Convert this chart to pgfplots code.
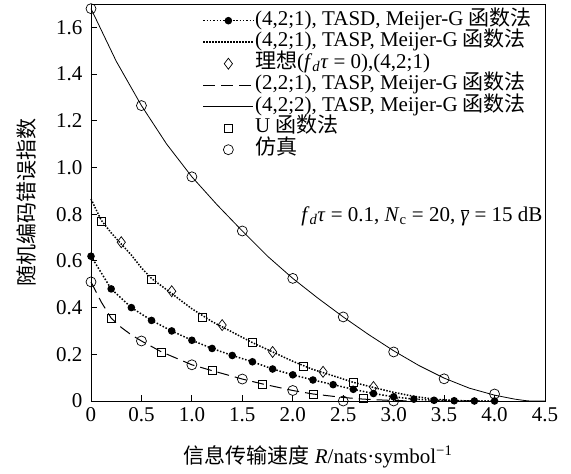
\documentclass[border=0pt]{standalone}
\usepackage{fontspec}
\setmainfont{Liberation Serif}
\newfontfamily\cjk{Noto Sans CJK SC}
\usepackage{pgfplots}
\pgfplotsset{compat=1.18}

\pgfplotstableread{
x y
0 0.62
0.2 0.48
0.4 0.40
0.6 0.345
0.8 0.30
1.0 0.26
1.2 0.225
1.4 0.195
1.6 0.168
1.8 0.137
2.0 0.112
2.2 0.09
2.4 0.07
2.6 0.05
2.8 0.032
3.0 0.018
3.2 0.008
3.4 0.003
3.6 0.001
3.8 0
4.0 0
}\tasd

\pgfplotstableread{
x y
0 0.865
0.1 0.775
0.2 0.72
0.3 0.672
0.4 0.625
0.5 0.57
0.6 0.525
0.8 0.46
1.0 0.395
1.2 0.34
1.4 0.295
1.6 0.25
1.8 0.21
2.0 0.17
2.2 0.135
2.4 0.108
2.6 0.08
2.8 0.058
3.0 0.037
3.2 0.02
3.4 0.008
3.6 0.002
3.8 0
4.0 0
}\taspone

\pgfplotstableread{
x y
0 0.51
0.1 0.425
0.2 0.355
0.3 0.315
0.4 0.283
0.5 0.257
0.7 0.21
1.0 0.155
1.2 0.13
1.5 0.094
1.7 0.073
2.0 0.045
2.2 0.03
2.5 0.015
2.7 0.008
3.0 0.002
3.2 0
}\tasptwo

\pgfplotstableread{
x y
0 1.68
0.25 1.455
0.5 1.265
0.75 1.10
1.0 0.96
1.25 0.84
1.5 0.728
1.75 0.62
2.0 0.525
2.25 0.44
2.5 0.36
2.75 0.285
3.0 0.215
3.25 0.152
3.5 0.098
3.75 0.055
4.0 0.025
4.2 0.008
4.3 0.002
4.35 0
4.5 0
}\taspfour

\newcommand\fsz{\fontsize{21bp}{25bp}\selectfont}

\begin{document}
\begin{tikzpicture}
\begin{axis}[
  scale only axis,
  width=454bp, height=397bp,
  xmin=0, xmax=4.5, ymin=0, ymax=1.7,
  clip=false,
  tick align=inside, tick pos=left,
  major tick length=6bp,
  axis line style={line width=0.8bp},
  every tick/.style={line width=0.8bp, black},
  xtick={0,0.5,1,1.5,2,2.5,3,3.5,4,4.5},
  xticklabels={0,0.5,1.0,1.5,2.0,2.5,3.0,3.5,4.0,4.5},
  ytick={0,0.2,0.4,0.6,0.8,1.0,1.2,1.4,1.6},
  yticklabels={0,0.2,0.4,0.6,0.8,1.0,1.2,1.4,1.6},
  tick label style={font=\fsz},
  yticklabel style={xshift=-5bp},
  xticklabel style={yshift=-3bp},
  xlabel={{\cjk 信息传输速度} \textit{R}/nats·symbol\textsuperscript{\char"2212 1}},
  ylabel={\cjk 随机编码错误指数},
  label style={font=\fsz},
  xlabel style={at={(axis description cs:0.5,-0.14)}, anchor=center},
  ylabel style={at={(axis description cs:-0.141,0.5)}, anchor=center},
  legend cell align=left,
  legend style={draw=none, fill=none, at={(1,1)}, anchor=north east,
    font=\fsz,
    nodes={inner sep=1bp, text height=13bp, text depth=4bp},
    row sep=2.5bp, xshift=-9bp, yshift=-5bp},
  legend image code/.code={
    \draw[mark repeat=2,mark phase=2,#1] plot coordinates {(0bp,0bp) (25bp,0bp) (50bp,0bp)};
  },
]
% (4,2;1) TASD
\addplot[black, line width=1.5bp, dash pattern=on 1.5bp off 1.8bp,
  mark=*, mark size=3bp, mark options={solid, fill=black}] table {\tasd};
\addlegendentry{(4,2;1), TASD, Meijer-G {\cjk 函数法}}
% (4,2;1) TASP
\addplot[black, line width=1.5bp, dash pattern=on 1.5bp off 1.5bp] table {\taspone};
\addlegendentry{(4,2;1), TASP, Meijer-G {\cjk 函数法}}
% ideal
\addplot[black, only marks, mark=diamond, mark size=5.5bp, mark options={line width=0.7bp}] coordinates {
  (0.3,0.68) (0.8,0.47) (1.3,0.325) (1.8,0.21) (2.3,0.125) (2.8,0.06)
};
\addlegendentry{{\cjk 理想}(\textit{f}\textsubscript{\textit{d}}\textit{τ} = 0),(4,2;1)}
% (2,2;1) TASP
\addplot[black, line width=1bp, dash pattern=on 12bp off 6bp] table {\tasptwo};
\addlegendentry{(2,2;1), TASP, Meijer-G {\cjk 函数法}}
% (4,2;2) TASP
\addplot[black, line width=0.8bp] table {\taspfour};
\addlegendentry{(4,2;2), TASP, Meijer-G {\cjk 函数法}}
% U function
\addplot[black, only marks, mark=square, mark size=4bp, mark options={line width=0.7bp}] coordinates {
  (0.1,0.77) (0.6,0.52) (1.1,0.36) (1.6,0.25) (2.1,0.15) (2.6,0.08)
  (0.2,0.353) (0.7,0.21) (1.2,0.13) (1.7,0.073) (2.2,0.03) (2.7,0.01)
};
\addlegendentry{U {\cjk 函数法}}
% simulation
\addplot[black, only marks, mark=o, mark size=5bp, mark options={line width=0.7bp}] coordinates {
  (0,1.68) (0.5,1.265) (1.0,0.96) (1.5,0.728) (2.0,0.525) (2.5,0.36) (3.0,0.21) (3.5,0.095) (4.0,0.03)
  (0,0.51) (0.5,0.257) (1.0,0.155) (1.5,0.094) (2.0,0.045) (2.5,0) (3.0,0)
};
\addlegendentry{\cjk 仿真}

\node[anchor=west, font=\fsz] at (axis cs:2.05,0.79)
  {\textit{f}\textsubscript{\textit{d}}\textit{τ} = 0.1, \textit{N}\textsubscript{c} = 20, $\overline{\mbox{\textit{γ}}}$ = 15 dB};
\end{axis}
\pgfresetboundingbox
\path ([shift={(-91bp,-73bp)}]current axis.south west) rectangle ([shift={(26bp,4bp)}]current axis.north east);
\end{tikzpicture}
\end{document}
